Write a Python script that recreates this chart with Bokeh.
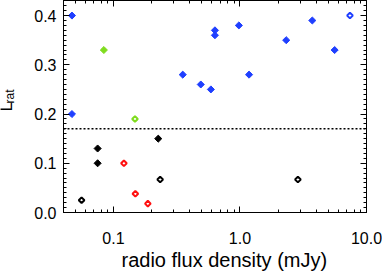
import numpy as np
from bokeh.plotting import figure
from bokeh.layouts import row
from bokeh.core.properties import value
from bokeh.models import (LogAxis, LinearAxis, Span, Title, FixedTicker,
                          PrintfTickFormatter, Range1d)
from bokeh.embed import file_html
from bokeh.resources import INLINE

# ---- data ----
blue_x = [0.047, 0.047, 0.353, 0.49, 0.589, 0.634, 0.634, 0.98, 1.18, 2.32, 3.73, 5.6]
blue_y = [0.40, 0.20, 0.28, 0.26, 0.25, 0.37, 0.36, 0.38, 0.28, 0.35, 0.39, 0.33]
blue_open_x = [7.4]
blue_open_y = [0.40]
green_x = [0.084]
green_y = [0.33]
green_open_x = [0.148]
green_open_y = [0.19]
black_x = [0.075, 0.075, 0.226]
black_y = [0.13, 0.10, 0.15]
black_open_x = [0.056, 0.234, 2.87]
black_open_y = [0.025, 0.067, 0.067]
red_open_x = [0.121, 0.149, 0.187]
red_open_y = [0.10, 0.038, 0.018]
threshold = 0.17
x_ticks = [0.1, 1.0, 10.0]
y_ticks = [0.0, 0.1, 0.2, 0.3, 0.4]
x_title = "radio flux density (mJy)"
y_title_main = "L"
y_title_sub = "rat"

BLUE = "#1f3fff"
GREEN = "#7fdc1e"
RED = "#ff1010"
FONT = "Liberation Sans"

# narrow strip on the left that carries the y-axis title L_rat
LW = 20
lab = figure(width=LW, height=274, x_range=Range1d(0, LW), y_range=Range1d(0, 274),
             output_backend="svg", toolbar_location=None,
             x_axis_location=None, y_axis_location=None, min_border=0)
lab.grid.visible = False
lab.outline_line_color = None
lab.background_fill_color = "white"
lab.border_fill_color = "white"
lab.text(x=[6.0], y=[130.5], text=[y_title_main], angle=np.pi / 2,
         text_font=value(FONT), text_font_size="17px", text_align="left",
         text_baseline="alphabetic", text_color="black")
lab.text(x=[9.0], y=[141.0], text=[y_title_sub], angle=np.pi / 2,
         text_font=value(FONT), text_font_size="12px", text_align="left",
         text_baseline="alphabetic", text_color="black")

p = figure(width=382 - LW, height=274, x_axis_type="log",
           x_range=Range1d(0.0403, 10.0), y_range=Range1d(0.0, 0.4306),
           output_backend="svg", toolbar_location=None,
           min_border_left=63 - LW, min_border_right=16, min_border_top=0,
           min_border_bottom=62)
p.grid.visible = False
p.outline_line_color = "black"
p.background_fill_color = "white"
p.border_fill_color = "white"

x_minor = [m * 10.0 ** e for e in range(-2, 2) for m in range(2, 10)]
y_minor = [round(i * 0.01, 2) for i in range(0, 44)]


def style(ax, labels):
    ax.axis_line_color = "black"
    ax.major_tick_in = 6
    ax.major_tick_out = 0
    ax.minor_tick_in = 3
    ax.minor_tick_out = 0
    ax.major_tick_line_color = "black"
    ax.minor_tick_line_color = "black"
    if labels:
        ax.major_label_text_font = FONT
        ax.major_label_text_font_size = "16px"
        ax.major_label_text_color = "black"
        ax.formatter = PrintfTickFormatter(format="%.1f")
    else:
        ax.major_label_text_font_size = "1px"
        ax.major_label_text_alpha = 0
        ax.major_label_standoff = 0


xax = p.xaxis[0]
xax.ticker = FixedTicker(ticks=x_ticks, minor_ticks=x_minor)
style(xax, True)
xax.major_label_standoff = 19

yax = p.yaxis[0]
yax.ticker = FixedTicker(ticks=y_ticks, minor_ticks=y_minor)
style(yax, True)
yax.major_label_standoff = 7

top = LogAxis(ticker=FixedTicker(ticks=x_ticks, minor_ticks=x_minor))
style(top, False)
p.add_layout(top, "above")
right = LinearAxis(ticker=FixedTicker(ticks=y_ticks, minor_ticks=y_minor))
style(right, False)
p.add_layout(right, "right")

# x-axis title, placed as a title panel below the axis
p.add_layout(Title(text=x_title, align="left", offset=58, standoff=0,
                   text_font=FONT, text_font_size="20px", text_font_style="normal",
                   text_color="black"), "below")

p.add_layout(Span(location=threshold, dimension="width", line_color="black",
                  line_width=1.5, line_dash="2 2"))

rot = np.pi / 4
p.scatter(blue_x, blue_y, marker="square", angle=rot, size=5, fill_color=BLUE,
          line_color=BLUE, line_width=1)
p.scatter(blue_open_x, blue_open_y, marker="square", angle=rot, size=4, fill_color=None,
          line_color=BLUE, line_width=2)
p.scatter(green_x, green_y, marker="square", angle=rot, size=5, fill_color=GREEN,
          line_color=GREEN, line_width=1)
p.scatter(green_open_x, green_open_y, marker="square", angle=rot, size=4, fill_color=None,
          line_color=GREEN, line_width=2)
p.scatter(black_x, black_y, marker="square", angle=rot, size=5, fill_color="black",
          line_color="black", line_width=1)
p.scatter(black_open_x, black_open_y, marker="square", angle=rot, size=4, fill_color=None,
          line_color="black", line_width=2)
p.scatter(red_open_x, red_open_y, marker="square", angle=rot, size=4, fill_color=None,
          line_color=RED, line_width=2)

layout = row(lab, p, spacing=0)
open("out.html", "w").write(file_html(layout, INLINE))
